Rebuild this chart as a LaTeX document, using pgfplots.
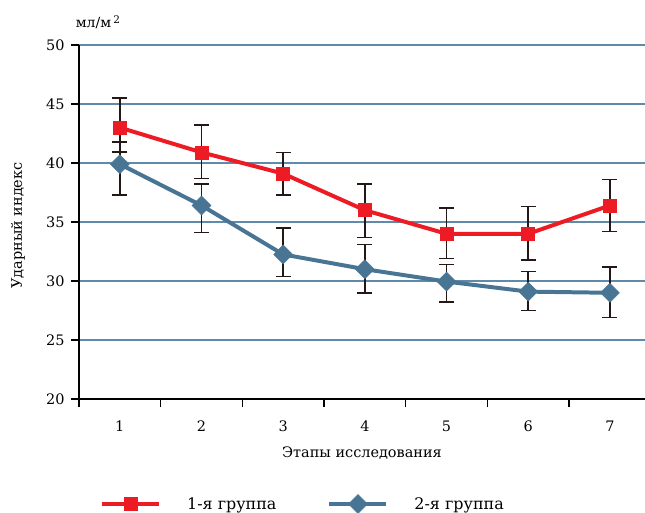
\documentclass[border=0pt]{standalone}
\usepackage{fontspec}
\setmainfont{DejaVu Serif}
\usepackage{pgfplots}
\pgfplotsset{compat=1.18}
\definecolor{redc}{RGB}{237,28,36}
\definecolor{bluec}{RGB}{73,117,148}
\definecolor{gridc}{RGB}{96,138,170}
\definecolor{errc}{RGB}{35,24,21}
\begin{document}
\begin{tikzpicture}[x=1bp,y=1bp]
\begin{axis}[
  at={(0,0)}, anchor=south west,
  scale only axis, width=566bp, height=354bp,
  xmin=0.5, xmax=7.43, ymin=20, ymax=50,
  axis x line*=bottom, axis y line*=left,
  axis line style={line width=1.5pt, black, -},
  ytick={20,25,...,50},
  ymajorgrids, grid style={gridc, line width=1.2pt},
  tick align=outside, major tick length=8bp,
  tick style={black, line width=1.5pt},
  xtick={0.5,1.5,...,6.5}, xticklabels={},
  extra x ticks={1,2,3,4,5,6,7},
  extra x tick labels={1,2,3,4,5,6,7},
  extra x tick style={tick style={draw=none}, xticklabel style={yshift=-10bp}},
  tick label style={font=\fontsize{14.5}{16}\selectfont},
  yticklabel style={xshift=-3bp},
  /pgf/number format/assume math mode=true,
  xlabel={Этапы исследования},
  xlabel style={at={(axis description cs:0.5,0)}, anchor=center, yshift=-54bp, font=\fontsize{14.5}{16}\selectfont},
  ylabel={Ударный индекс},
  ylabel style={at={(axis description cs:-0.1078,0.49)}, anchor=center, font=\fontsize{14.5}{16}\selectfont},
  title={мл/м\,\raisebox{0.55ex}{\fontsize{10.5}{12}\selectfont 2}},
  title style={at={(axis description cs:0,1)}, anchor=center, xshift=19bp, yshift=17bp, font=\fontsize{14}{16}\selectfont},
  legend columns=2,
  legend style={draw=none, fill=none, at={(0,0)}, anchor=west, xshift=18bp, yshift=-105bp,
    font=\fontsize{16}{18}\selectfont, /tikz/every even column/.append style={column sep=49bp},
    /tikz/every odd column/.append style={column sep=24bp}},
  legend image code/.code={\draw[mark repeat=2, mark phase=2, #1] plot coordinates {(0bp,0bp) (28.5bp,0bp) (57bp,0bp)};},
]
\addplot[redc, line width=4pt, mark=square*, mark size=6.5bp, mark options={solid, redc, line width=0.5pt},
  error bars/.cd, y dir=both, y explicit,
  error bar style={errc, line width=1.5pt},
  error mark options={errc, rotate=90, mark size=7.5bp, line width=1.5pt}]
coordinates {
  (1,43.0) += (0,2.5) -= (0,2.05)
  (2,40.9) += (0,2.3) -= (0,2.2)
  (3,39.1) += (0,1.8) -= (0,1.8)
  (4,36.0) += (0,2.2) -= (0,2.3)
  (5,34.0) += (0,2.2) -= (0,2.1)
  (6,34.0) += (0,2.3) -= (0,2.2)
  (7,36.4) += (0,2.2) -= (0,2.2)
};
\addplot[bluec, line width=4pt, mark=square*, mark size=6.7bp, mark options={solid, bluec, rotate=45, line width=0.5pt},
  error bars/.cd, y dir=both, y explicit,
  error bar style={errc, line width=1.5pt},
  error mark options={errc, rotate=90, mark size=7.5bp, line width=1.5pt}]
coordinates {
  (1,39.9) += (0,1.9) -= (0,2.6)
  (2,36.4) += (0,1.8) -= (0,2.3)
  (3,32.25) += (0,2.25) -= (0,1.85)
  (4,31.0) += (0,2.1) -= (0,2.0)
  (5,29.95) += (0,1.45) -= (0,1.75)
  (6,29.1) += (0,1.7) -= (0,1.6)
  (7,29.0) += (0,2.2) -= (0,2.1)
};
\legend{1-я группа, 2-я группа}
\end{axis}
\pgfresetboundingbox
\path[use as bounding box] (-79bp,-114bp) rectangle (566bp,399bp);
\end{tikzpicture}
\end{document}
